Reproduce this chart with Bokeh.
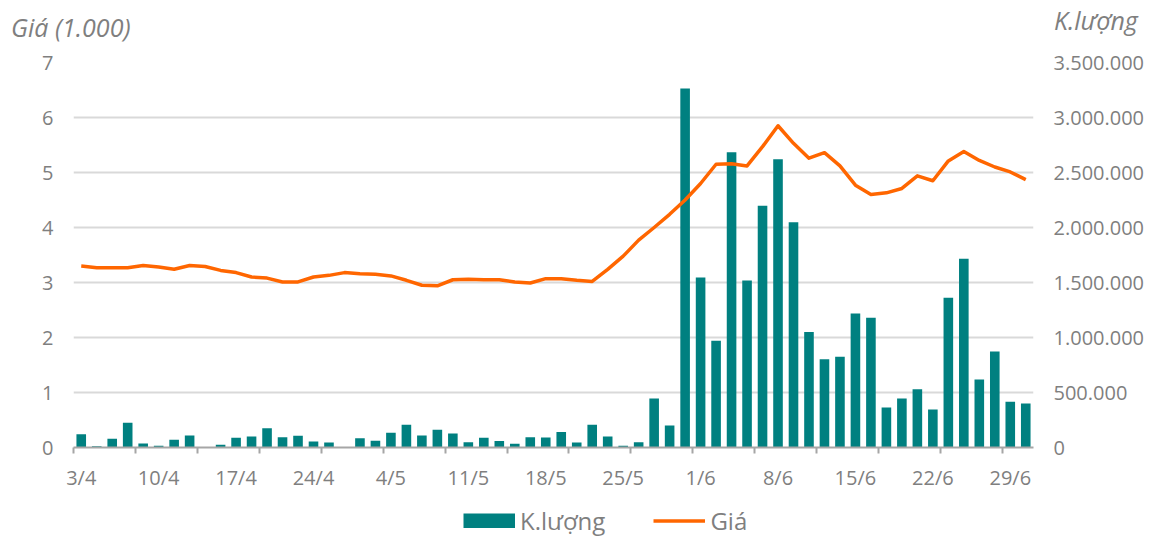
from bokeh.plotting import figure
from bokeh.layouts import column
from bokeh.models import Range1d, LinearAxis, FixedTicker, Legend, LegendItem, Div
from bokeh.embed import file_html
from bokeh.resources import INLINE

dates = ["3/4", "4/4", "5/4", "6/4", "7/4", "10/4", "11/4", "12/4", "13/4", "14/4",
         "17/4", "18/4", "19/4", "20/4", "21/4", "24/4", "25/4", "26/4", "27/4", "28/4",
         "4/5", "5/5", "8/5", "9/5", "10/5", "11/5", "12/5", "15/5", "16/5", "17/5",
         "18/5", "19/5", "22/5", "23/5", "24/5", "25/5", "26/5", "29/5", "30/5", "31/5",
         "1/6", "2/6", "5/6", "6/6", "7/6", "8/6", "9/6", "12/6", "13/6", "14/6",
         "15/6", "16/6", "19/6", "20/6", "21/6", "22/6", "23/6", "26/6", "27/6", "28/6",
         "29/6", "30/6"]

volume = [121000, 12000, 79000, 224000, 36000, 15000, 70000, 109000, 5000, 24000,
          88000, 100000, 176000, 94000, 106000, 55000, 45000, 2000, 85000, 61000,
          133000, 206000, 109000, 161000, 127000, 48000, 88000, 58000, 33000, 94000,
          91000, 142000, 45000, 206000, 100000, 15000, 48000, 445000, 200000, 3264000,
          1545000, 970000, 2685000, 1518000, 2197000, 2621000, 2048000, 1051000, 803000, 824000,
          1218000, 1179000, 364000, 445000, 530000, 345000, 1361000, 1715000, 618000, 873000,
          415000, 400000]

price = [3.30, 3.27, 3.27, 3.27, 3.31, 3.28, 3.24, 3.31, 3.29, 3.22,
         3.18, 3.10, 3.08, 3.01, 3.01, 3.10, 3.13, 3.18, 3.16, 3.15,
         3.12, 3.04, 2.95, 2.94, 3.05, 3.06, 3.05, 3.05, 3.01, 2.99,
         3.07, 3.07, 3.04, 3.02, 3.24, 3.48, 3.77, 4.00, 4.24, 4.50,
         4.80, 5.15, 5.16, 5.12, 5.47, 5.85, 5.53, 5.26, 5.36, 5.12,
         4.77, 4.60, 4.63, 4.71, 4.94, 4.85, 5.21, 5.38, 5.22, 5.10,
         5.01, 4.87]

price_ticks = [0, 1, 2, 3, 4, 5, 6, 7]
volume_ticks = [0, 500000, 1000000, 1500000, 2000000, 2500000, 3000000, 3500000]
label_every = 5
tick_every = 4

price_title = "Giá (1.000)"
volume_title = "K.lượng"
volume_name = "K.lượng"
price_name = "Giá"

FONT = "Open Sans"
GRAY = "#7f7f7f"
TEAL = "#008080"
ORANGE = "#ff6600"
W = 1152

# ---- header with the two axis titles ----
span = ("position:absolute;top:{top}px;left:{left}px;font-size:25px;line-height:25px;"
        "white-space:nowrap;")
head_html = (
    f'<div style="position:relative;width:{W}px;height:44px;font-family:\'Open Sans\';'
    f'font-style:italic;color:{GRAY};">'
    f'<span style="{span.format(top=15, left=11)}">{price_title}</span>'
    f'<span style="{span.format(top=8, left=1054)}">{volume_title}</span>'
    '</div>')
head = Div(text=head_html, width=W, height=44, margin=0)

# ---- main chart ----
x = list(range(len(dates)))
p = figure(width=W, height=449, output_backend="svg", toolbar_location=None,
           x_range=Range1d(-0.5, len(dates) - 0.5),
           y_range=Range1d(price_ticks[0], price_ticks[-1]),
           min_border_left=73, min_border_right=119, min_border_top=18, min_border_bottom=46)
p.extra_y_ranges = {"vol": Range1d(volume_ticks[0], volume_ticks[-1])}
p.outline_line_color = None
p.background_fill_color = "white"
p.border_fill_color = "white"
p.xgrid.visible = False

lab_ticks = list(range(0, len(dates), label_every))
xa = p.xaxis[0]
xa.ticker = FixedTicker(ticks=lab_ticks,
                        minor_ticks=[i - 0.5 for i in range(0, len(dates), tick_every)])
xa.major_label_overrides = {i: dates[i] for i in lab_ticks}
xa.major_tick_in = 0
xa.major_tick_out = 0
xa.major_tick_line_color = None
xa.minor_tick_in = 0
xa.minor_tick_out = 6
xa.minor_tick_line_color = "#a6a6a6"
xa.minor_tick_line_width = 2
xa.axis_line_color = "#a6a6a6"
xa.axis_line_width = 2
xa.major_label_standoff = 10
xa.major_label_text_font = FONT
xa.major_label_text_font_size = "20px"
xa.major_label_text_color = GRAY

ya = p.yaxis[0]
ya.ticker = FixedTicker(ticks=price_ticks)
ya.axis_line_color = None
ya.major_tick_line_color = None
ya.minor_tick_line_color = None
ya.major_tick_in = 0
ya.major_tick_out = 0
ya.major_label_standoff = 20
ya.major_label_text_font = FONT
ya.major_label_text_font_size = "20px"
ya.major_label_text_color = GRAY

p.ygrid.ticker = FixedTicker(ticks=price_ticks)
p.ygrid.grid_line_color = "#d9d9d9"
p.ygrid.grid_line_width = 2

ra = LinearAxis(y_range_name="vol", ticker=FixedTicker(ticks=volume_ticks),
                major_label_overrides={v: f"{v:,}".replace(",", ".") for v in volume_ticks},
                axis_line_color=None, major_tick_line_color=None, minor_tick_line_color=None,
                major_tick_in=0, major_tick_out=0, major_label_standoff=20,
                major_label_text_font=FONT, major_label_text_font_size="20px",
                major_label_text_color=GRAY)
p.add_layout(ra, "right")

bars = p.vbar(x=x, top=volume, width=0.62, bottom=0, y_range_name="vol",
              fill_color=TEAL, line_color=None)
line = p.line(x=x, y=price, line_width=3.5, line_color=ORANGE, line_join="round")

# ---- legend strip ----
leg_fig = figure(width=W, height=43, output_backend="svg", toolbar_location=None,
                 x_range=Range1d(0, 1), y_range=Range1d(0, 1),
                 x_axis_location=None, y_axis_location=None,
                 min_border_left=0, min_border_right=0, min_border_top=0, min_border_bottom=0)
leg_fig.grid.visible = False
leg_fig.outline_line_color = None
leg_fig.background_fill_color = "white"
leg_fig.border_fill_color = "white"
nan = float("nan")
sw_bar = leg_fig.line(x=[nan], y=[nan], line_width=15, line_color=TEAL, line_cap="butt")
sw_line = leg_fig.line(x=[nan], y=[nan], line_width=3.5, line_color=ORANGE)
leg = Legend(items=[LegendItem(label=volume_name, renderers=[sw_bar]),
                    LegendItem(label=price_name, renderers=[sw_line])],
             orientation="horizontal", location=(390, -1),
             glyph_width=52, glyph_height=15, label_standoff=5, spacing=48,
             padding=0, margin=0, border_line_color=None, background_fill_alpha=0,
             label_text_font=FONT, label_text_font_size="24px", label_text_color=GRAY)
leg_fig.add_layout(leg)

layout = column(head, p, leg_fig, spacing=0)
open("out.html", "w").write(file_html(layout, INLINE))
